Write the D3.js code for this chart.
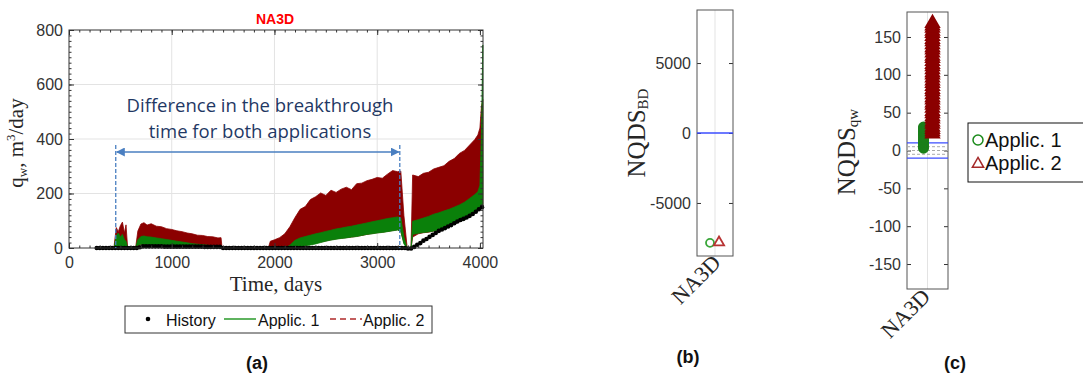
<!DOCTYPE html>
<html>
<head>
<meta charset="utf-8">
<script src="https://cdn.jsdelivr.net/npm/d3@7"></script>
<style>
  body { margin: 0; background: #fff; }
  svg { display: block; }
  .tick text { font-family: Arial, "Liberation Sans", sans-serif; fill: #333; }
</style>
</head>
<body>
<div id="chart"></div>
<script>
/* DATA */
// panel (a): water rate ensembles, envelope of every run (null = no run produces water)
const bandDays = [440,460,480,500,520,540,555,570,600,
  650,670,700,730,760,800,850,900,950,1000,1050,1100,1150,1200,1250,1300,1350,1400,1450,1480,1490,1700,
  1940,1960,2000,2050,2100,2150,2200,2250,2300,2350,2400,2450,2500,2550,2600,2650,2700,2750,2800,2850,2900,2950,3000,3050,3100,3150,3200,3230,3260,3290,3310,
  3330,3345,3400,3450,3500,3550,3600,3650,3700,3750,3800,3850,3900,3950,3980,4000,4015,4028];
const app2Hi = [10,75,60,82,95,55,85,5,null,
  5,62,88,93,84,89,80,78,71,68,63,60,55,52,47,46,42,41,37,38,0,null,
  0,25,30,38,52,78,112,142,152,178,188,202,193,212,204,216,223,214,236,238,247,252,259,256,271,284,280,282,120,8,null,
  10,268,262,274,278,290,296,302,318,328,347,358,378,398,415,440,520,545];
const app2Lo = [0,5,5,5,5,5,5,0,null,
  2,8,14,13,12,11,10,9,9,8,8,7,6,6,5,5,4,4,3,3,0,null,
  0,3,4,5,5,5,5,8,10,14,18,22,26,30,34,36,38,40,43,46,50,53,56,58,61,64,67,60,20,0,null,
  0,40,52,56,58,62,67,72,80,88,96,104,115,130,140,145,150,150];
const app1Hi = [5,45,55,40,50,30,25,3,null,
  3,30,42,44,41,40,37,34,31,28,25,22,19,16,14,12,10,8,6,5,0,null,
  null,null,null,null,0,10,28,37,42,47,52,56,61,65,70,73,77,80,84,88,92,96,100,104,108,111,114,110,40,0,null,
  5,98,104,110,116,124,129,136,142,150,158,168,182,196,206,230,420,745];
const app1Lo = [0,2,2,2,2,2,2,0,null,
  1,10,14,13,12,11,10,9,9,8,7,7,6,5,5,4,4,3,3,2,0,null,
  null,null,null,null,0,0,3,5,8,11,15,20,25,29,32,35,37,40,42,46,50,52,55,57,60,63,66,60,15,0,null,
  0,50,54,57,59,62,66,72,80,88,97,103,118,135,145,148,150,150];

const histDays = [270,300,330,360,390,420,450,480,510,540,570,600,630,660,
  690,720,750,780,810,840,870,900,930,960,990,1020,1050,1080,1110,1140,1170,1200,1230,1260,1290,1320,1350,1380,1410,1440,1470,
  1500,1530,1560,1590,1620,1650,1680,1710,1740,1770,1800,1830,1860,1890,1920,1950,1980,2010,2040,2070,2100,2130,2160,2190,2220,2250,2280,2310,2340,2370,2400,2430,2460,2490,2520,2550,2580,2610,2640,2670,2700,2730,2760,2790,2820,2850,2880,2910,2940,2970,3000,3030,3060,3090,3120,3150,3180,3210,3240,3270,
  3300,3330,3360,3390,3420,3450,3480,3510,3540,3570,3600,3630,3660,3690,3720,3750,3780,3810,3840,3870,3900,3930,3960,3990,4020];
const histQw = [0,0,0,0,0,0,0,0,0,0,0,0,0,0,
  3,6,6,6,6,6,6,6,5,5,5,5,5,5,5,5,5,5,5,5,5,4,4,4,4,4,4,
  0,0,0,0,0,0,0,0,0,0,0,0,0,0,0,0,0,0,0,0,0,0,0,0,0,0,0,0,0,0,0,0,0,0,0,0,0,0,0,0,0,0,0,0,0,0,0,0,0,0,0,0,0,0,0,0,0,0,0,0,
  -2,-2,4,12,18,27,33,41,48,55,63,68,73,79,84,91,97,103,107,112,118,125,133,142,150];

const xTicksA = [0,1000,2000,3000,4000];
const yTicksA = [0,200,400,600,800];
const breakthroughDays = [455, 3220];

// panel (b)
const wells = ["NA3D"];
const bdApp1 = [-7850];
const bdApp2 = [-7820];
const yTicksB = [-5000,0,5000];

// panel (c)
const qwApp1 = [3,5,7,9,11,13,15,17,19,21,23,25,27,29,31];
const qwApp2 = [22,25,28,31,35,38,42,45,49,52,56,60,63,67,70,74,78,81,85,89,92,96,100,103,107,111,114,118,122,125,129,133,136,140,144,147,151,155,158,162,165,168];
const yTicksC = [-150,-100,-50,0,50,100,150];

const GREEN = "#0a800a", DKRED = "#8b0000";

const svg = d3.select("#chart").append("svg").attr("width", 1083).attr("height", 374);
const serif = "'Liberation Serif', 'DejaVu Serif', serif";
const sans = "Arial, 'Liberation Sans', sans-serif";
const plain = d => String(d);

/* PANEL (a) */
const ax = { l: 69, r: 483, t: 30, b: 248 };
const x = d3.scaleLinear().domain([0, 4030]).range([ax.l, ax.r]);
const y = d3.scaleLinear().domain([0, 800]).range([ax.b, ax.t]);
const gA = svg.append("g");

// grid
gA.selectAll(".vg").data(xTicksA.slice(1, 4)).join("line")
  .attr("x1", d => x(d)).attr("x2", d => x(d)).attr("y1", ax.t).attr("y2", ax.b)
  .attr("stroke", "#e3e3e3");
gA.selectAll(".hg").data(yTicksA.slice(1, 4)).join("line")
  .attr("y1", d => y(d)).attr("y2", d => y(d)).attr("x1", ax.l).attr("x2", ax.r)
  .attr("stroke", "#e3e3e3");

const rows = bandDays.map((d, i) => ({ t: d, r1: app2Hi[i], r0: app2Lo[i], g1: app1Hi[i], g0: app1Lo[i] }));
gA.append("path").datum(rows)
  .attr("d", d3.area().defined(d => d.r1 != null).x(d => x(d.t)).y0(d => y(d.r0)).y1(d => y(d.r1)))
  .attr("fill", DKRED).attr("stroke", DKRED).attr("stroke-width", 0.8);
gA.append("path").datum(rows)
  .attr("d", d3.area().defined(d => d.g1 != null).x(d => x(d.t)).y0(d => y(d.g0)).y1(d => y(d.g1)))
  .attr("fill", GREEN).attr("stroke", GREEN).attr("stroke-width", 0.8);

gA.selectAll(".hist").data(histDays).join("circle")
  .attr("cx", d => x(d)).attr("cy", (d, i) => y(histQw[i])).attr("r", 2.3).attr("fill", "#000");

// axes, ticks inward
const axStyle = g => { g.select(".domain").remove(); g.selectAll(".tick line").attr("stroke", "#333"); };
gA.append("g").attr("transform", `translate(0,${ax.b})`)
  .call(d3.axisBottom(x).tickValues(xTicksA).tickFormat(plain).tickSize(-5).tickPadding(9))
  .call(axStyle).selectAll("text").attr("font-size", 16);
gA.append("g").attr("transform", `translate(0,${ax.t})`)
  .call(d3.axisTop(x).tickValues(xTicksA).tickSize(-5).tickFormat(""))
  .call(axStyle);
gA.append("g").attr("transform", `translate(${ax.l},0)`)
  .call(d3.axisLeft(y).tickValues(yTicksA).tickFormat(plain).tickSize(-5).tickPadding(6))
  .call(axStyle).selectAll("text").attr("font-size", 16);
gA.append("g").attr("transform", `translate(${ax.r},0)`)
  .call(d3.axisRight(y).tickValues(yTicksA).tickSize(-5).tickFormat(""))
  .call(axStyle);
// minor ticks
const minorX = d3.range(0, 4030, 100), minorY = d3.range(0, 801, 20);
[[d3.axisBottom, ax.b], [d3.axisTop, ax.t]].forEach(([f, p]) =>
  gA.append("g").attr("transform", `translate(0,${p})`).call(f(x).tickValues(minorX).tickSize(-2.5).tickFormat("")).call(axStyle));
[[d3.axisLeft, ax.l], [d3.axisRight, ax.r]].forEach(([f, p]) =>
  gA.append("g").attr("transform", `translate(${p},0)`).call(f(y).tickValues(minorY).tickSize(-2.5).tickFormat("")).call(axStyle));
gA.append("rect").attr("x", ax.l).attr("y", ax.t).attr("width", ax.r - ax.l).attr("height", ax.b - ax.t)
  .attr("fill", "none").attr("stroke", "#333");

// annotation
const ARROW = "#4a7fc1";
svg.append("defs").append("marker").attr("id", "ah").attr("viewBox", "0 0 10 10")
  .attr("refX", 9).attr("refY", 5).attr("markerWidth", 6).attr("markerHeight", 6).attr("orient", "auto-start-reverse")
  .append("path").attr("d", "M0,0L10,5L0,10z").attr("fill", ARROW);
gA.selectAll(".bt").data(breakthroughDays).join("line")
  .attr("x1", d => x(d)).attr("x2", d => x(d)).attr("y1", 145).attr("y2", ax.b)
  .attr("stroke", ARROW).attr("stroke-width", 1.3).attr("stroke-dasharray", "4,2");
gA.append("line").attr("x1", x(breakthroughDays[0]) + 1).attr("x2", x(breakthroughDays[1]) - 1)
  .attr("y1", 152).attr("y2", 152).attr("stroke", ARROW).attr("stroke-width", 1.5)
  .attr("marker-start", "url(#ah)").attr("marker-end", "url(#ah)");
const ann = gA.append("text").attr("font-family", "'Open Sans', Lato, sans-serif").attr("font-size", 18.5)
  .attr("fill", "#1f3864").attr("text-anchor", "middle");
ann.append("tspan").attr("x", 260).attr("y", 112).text("Difference in the breakthrough");
ann.append("tspan").attr("x", 260).attr("y", 138).text("time for both applications");

svg.append("text").attr("x", 275).attr("y", 24).attr("text-anchor", "middle")
  .attr("font-family", sans).attr("font-weight", "bold").attr("font-size", 14).attr("fill", "#f00").text("NA3D");
svg.append("text").attr("x", 276).attr("y", 291).attr("text-anchor", "middle")
  .attr("font-family", serif).attr("font-size", 21).attr("fill", "#262626").text("Time, days");
const yl = svg.append("text").attr("transform", "translate(23,143) rotate(-90)").attr("text-anchor", "middle")
  .attr("font-family", serif).attr("font-size", 21).attr("fill", "#262626");
yl.append("tspan").text("q");
yl.append("tspan").attr("font-size", 13).attr("dy", 4).text("w");
yl.append("tspan").attr("dy", -4).text(", m");
yl.append("tspan").attr("font-size", 13).attr("dy", -8).text("3");
yl.append("tspan").attr("dy", 8).text("/day");
svg.append("text").attr("x", 257).attr("y", 369).attr("text-anchor", "middle")
  .attr("font-family", sans).attr("font-weight", "bold").attr("font-size", 18).attr("fill", "#111").text("(a)");

// legend (a)
const lg = svg.append("g");
lg.append("rect").attr("x", 125).attr("y", 306).attr("width", 307).attr("height", 27)
  .attr("fill", "#fff").attr("stroke", "#333");
lg.append("circle").attr("cx", 148).attr("cy", 319).attr("r", 2.3).attr("fill", "#000");
lg.append("line").attr("x1", 224).attr("x2", 256).attr("y1", 319).attr("y2", 319).attr("stroke", "#2a9a2a").attr("stroke-width", 1.5);
lg.append("line").attr("x1", 330).attr("x2", 362).attr("y1", 319).attr("y2", 319).attr("stroke", "#b02a2a")
  .attr("stroke-width", 1.5).attr("stroke-dasharray", "6,4");
[["History", 166], ["Applic. 1", 258], ["Applic. 2", 363]].forEach(([t, px]) =>
  lg.append("text").attr("x", px).attr("y", 326).attr("font-family", sans).attr("font-size", 16).attr("fill", "#111").text(t));

/* PANELS (b) and (c) */
function stripPanel(o) {
  const g = svg.append("g");
  const xs = d3.scalePoint().domain(wells).range([o.l, o.r]).padding(0.5);
  const ys = d3.scaleLinear().domain(o.dom).range([o.b, o.t]);
  g.append("line").attr("x1", xs(wells[0])).attr("x2", xs(wells[0])).attr("y1", o.t).attr("y2", o.b).attr("stroke", "#e3e3e3");
  g.append("g").attr("transform", `translate(${o.l},0)`)
    .call(d3.axisLeft(ys).tickValues(o.ticks).tickFormat(plain).tickSize(-4).tickPadding(6))
    .call(axStyle).selectAll("text").attr("font-size", 16);
  g.append("g").attr("transform", `translate(${o.r},0)`)
    .call(d3.axisRight(ys).tickValues(o.ticks).tickSize(-4).tickFormat(""))
    .call(axStyle);
  g.append("rect").attr("x", o.l).attr("y", o.t).attr("width", o.r - o.l).attr("height", o.b - o.t)
    .attr("fill", "none").attr("stroke", "#555");
  g.append("text").attr("transform", `translate(${xs(wells[0]) + o.lx},${o.b + o.ly}) rotate(-45)`)
    .attr("text-anchor", "end").attr("font-family", serif).attr("font-size", 22).attr("fill", "#262626").text(wells[0]);
  const t = g.append("text").attr("transform", `translate(${o.yx},${o.yc}) rotate(-90)`).attr("text-anchor", "middle")
    .attr("font-family", serif).attr("font-size", 25).attr("fill", "#262626");
  t.append("tspan").text("NQDS");
  t.append("tspan").attr("font-size", 15).attr("dy", 3).text(o.sub);
  g.append("text").attr("x", o.px).attr("y", o.py).attr("text-anchor", "middle")
    .attr("font-family", sans).attr("font-weight", "bold").attr("font-size", 18).attr("fill", "#111").text(o.name);
  return { g, xs, ys };
}

const pb = stripPanel({ l: 697, r: 733, t: 10, b: 256, dom: [-8790, 8790], ticks: yTicksB,
  lx: 7, ly: 8, yx: 645, yc: 133, sub: "BD", px: 688, py: 363, name: "(b)" });
pb.g.append("line").attr("x1", 697).attr("x2", 733).attr("y1", pb.ys(0)).attr("y2", pb.ys(0)).attr("stroke", "#3b4cff").attr("stroke-width", 1.5);
pb.g.selectAll(".c1").data(bdApp1).join("circle")
  .attr("cx", pb.xs(wells[0]) - 5).attr("cy", d => pb.ys(d)).attr("r", 4)
  .attr("fill", "none").attr("stroke", "#3aa63a").attr("stroke-width", 1.8);
pb.g.selectAll(".t2").data(bdApp2).join("path")
  .attr("transform", d => `translate(${pb.xs(wells[0]) + 4},${pb.ys(d)})`)
  .attr("d", d3.symbol(d3.symbolTriangle, 45)).attr("fill", "none").attr("stroke", "#b83232").attr("stroke-width", 1.8);

const pc = stripPanel({ l: 907, r: 948, t: 12, b: 289, dom: [-183, 183], ticks: yTicksC,
  lx: 4, ly: 9, yx: 855, yc: 152, sub: "qw", px: 955, py: 369, name: "(c)" });
[-5, 0, 5].forEach(v => pc.g.append("line").attr("x1", 907).attr("x2", 948).attr("y1", pc.ys(v)).attr("y2", pc.ys(v))
  .attr("stroke", "#aaa").attr("stroke-dasharray", "3,2"));
[-10, 10].forEach(v => pc.g.append("line").attr("x1", 907).attr("x2", 948).attr("y1", pc.ys(v)).attr("y2", pc.ys(v))
  .attr("stroke", "#3b4cff").attr("stroke-width", 1.3));
pc.g.selectAll(".c1").data(qwApp1).join("circle")
  .attr("cx", pc.xs(wells[0]) - 4).attr("cy", d => pc.ys(d)).attr("r", 4)
  .attr("fill", "none").attr("stroke", "#1a7f1a").attr("stroke-width", 3);
pc.g.selectAll(".t2").data(qwApp2).join("path")
  .attr("transform", d => `translate(${pc.xs(wells[0]) + 5},${pc.ys(d)})`)
  .attr("d", d3.symbol(d3.symbolTriangle, 55)).attr("fill", "none").attr("stroke", DKRED).attr("stroke-width", 3);

// legend (c)
const lc = svg.append("g");
lc.append("rect").attr("x", 968).attr("y", 123).attr("width", 130).attr("height", 59).attr("fill", "#fff").attr("stroke", "#111");
lc.append("circle").attr("cx", 978).attr("cy", 140).attr("r", 5).attr("fill", "none").attr("stroke", "#1a8a1a").attr("stroke-width", 1.5);
lc.append("path").attr("transform", "translate(978,164)").attr("d", d3.symbol(d3.symbolTriangle, 55))
  .attr("fill", "none").attr("stroke", "#a52a2a").attr("stroke-width", 1.5);
[["Applic. 1", 147], ["Applic. 2", 170]].forEach(([t, py]) =>
  lc.append("text").attr("x", 985).attr("y", py).attr("font-family", sans).attr("font-size", 20).attr("fill", "#111").text(t));
</script>
</body>
</html>
